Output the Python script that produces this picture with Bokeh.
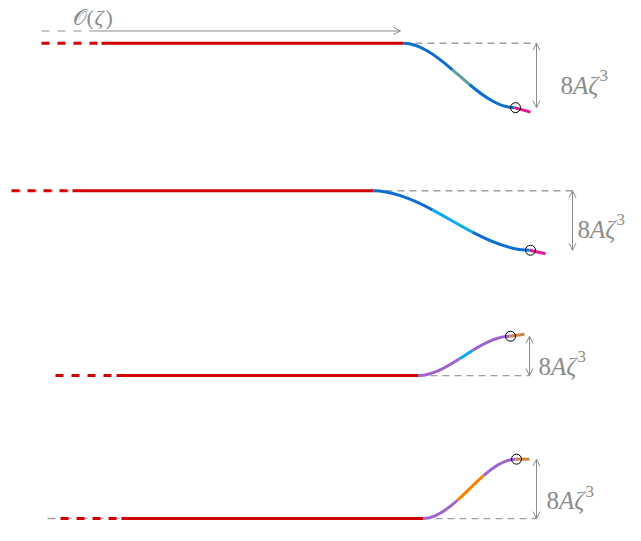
from bokeh.plotting import figure
from bokeh.models import Range1d, Arrow, OpenHead
from bokeh.core.properties import value
from bokeh.embed import file_html
from bokeh.resources import INLINE

# ---- diagram data (pixel coordinate system, y grows downward) ----
base_y = [47.5, 197.5, 385.5, 531.0]      # level of the flat (red) part
step_y = [113.0, 258.0, 345.5, 470.5]     # level after the step of height 8Aζ³
dash_start = [41, 11, 55, 60]              # start of the dashed red lead
solid_start = [101, 72, 116, 121]          # start of the solid red part
bend_x = [403, 373, 418, 423]              # where the smooth step begins
end_x = [514, 529, 509, 515]               # where the smooth step ends (circle)
mid_from = [452, 432, 459, 457]            # highlighted middle part of the step
mid_to = [469, 472, 472, 483]
tail_x = [530, 545, 524, 529]              # short end segment
tail_y = [117.5, 261.5, 343.5, 470.5]
ruler_x = [536, 572, 529, 536]             # double arrow showing 8Aζ³
label_x = [560, 577, 538, 546]             # left edge of the 8Aζ³ label
label_base = [90, 236.5, 376.5, 513]       # baseline of the 8Aζ³ label
curve_color = ["#0b6ed0", "#0b6ed0", "#9e63cf", "#9e63cf"]
mid_color = ["#5f9ea0", "#0aaaf0", "#0aaaf0", "#ff8000"]
tail_color = ["#e8168f", "#e8168f", "#cd853f", "#cd853f"]
gray_lead = [(0, 0), (13, 70), (0, 0), (47, 119)]   # grey dashes under red lead
scale_y = 35                                   # O(ζ) scale arrow level
scale_x = [41, 97, 400]                        # dashed start, solid start, arrow tip
scale_label_parts = ["𝒪(", "ζ", ")"]
scale_label_pos = (72, 21)

RED = "#d00000"
GRAY = "#8c8c8c"
LGRAY = "#a0a0a0"
SERIF = value("Liberation Serif")

p = figure(width=625, height=525, output_backend="svg", toolbar_location=None,
           x_range=Range1d(0, 625), y_range=Range1d(538, 4),
           min_border=0, outline_line_color=None)
p.axis.visible = False
p.grid.visible = False
p.background_fill_color = "white"


def smooth(t, y0, h):
    return y0 + h * (3 * t * t - 2 * t ** 3)


def dsmooth(t, h):
    return 6 * h * t * (1 - t)


for i in range(4):
    y0, y1 = base_y[i], step_y[i]
    x0, x1 = bend_x[i], end_x[i]
    w, h = x1 - x0, y1 - y0

    # grey dashed reference line at the base level
    p.line([x0, ruler_x[i]], [y0, y0], line_color=LGRAY, line_width=1.3,
           line_dash="7 5")
    # grey double arrow 8Aζ³
    p.add_layout(Arrow(x_start=ruler_x[i], y_start=y0, x_end=ruler_x[i], y_end=y1,
                       line_color=GRAY, line_width=1,
                       start=OpenHead(size=7, line_color=GRAY, line_width=1),
                       end=OpenHead(size=7, line_color=GRAY, line_width=1)))
    lx, by = label_x[i], label_base[i]
    p.text(x=[lx], y=[by], text=["8"], text_font=SERIF, text_font_size="25px",
           text_color=GRAY, text_align="left", text_baseline="alphabetic")
    p.text(x=[lx + 12.5], y=[by], text=["Aζ"], text_font=SERIF,
           text_font_style="italic", text_font_size="25px",
           text_color=GRAY, text_align="left", text_baseline="alphabetic")
    p.text(x=[lx + 39], y=[by - 10], text=["3"], text_font=SERIF,
           text_font_size="17px", text_color=GRAY, text_align="left",
           text_baseline="alphabetic")

    # grey lead dashes under the red dashes
    g0, g1 = gray_lead[i]
    if g1 > g0:
        p.line([g0, g1], [y0, y0], line_color=LGRAY, line_width=1.5, line_dash="8 8")

    # red lead
    p.line([dash_start[i], solid_start[i] - 4], [y0, y0], line_color=RED,
           line_width=3, line_dash="8 8")
    p.line([solid_start[i], x0], [y0, y0], line_color=RED, line_width=3)

    # smooth step in three pieces
    ta = (mid_from[i] - x0) / w
    tb = (mid_to[i] - x0) / w
    pieces = [(0.0, ta, curve_color[i]), (ta, tb, mid_color[i]), (tb, 1.0, curve_color[i])]
    for a, b, col in pieces:
        d = (b - a) / 3
        xa, ya = x0 + w * a, smooth(a, y0, h)
        xb, yb = x0 + w * b, smooth(b, y0, h)
        p.bezier(x0=[xa], y0=[ya], x1=[xb], y1=[yb],
                 cx0=[xa + d * w], cy0=[ya + d * dsmooth(a, h)],
                 cx1=[xb - d * w], cy1=[yb - d * dsmooth(b, h)],
                 line_color=col, line_width=3)

    # tail
    p.line([x1, tail_x[i]], [y1, tail_y[i]], line_color=tail_color[i], line_width=3)
    # circle marker
    p.scatter([x1 + 1], [y1], size=10, marker="circle", fill_alpha=0,
              line_color="black", line_width=1)

# O(ζ) scale arrow on top
p.line([scale_x[0], scale_x[1]], [scale_y, scale_y], line_color=GRAY, line_width=1,
       line_dash="8 8")
p.add_layout(Arrow(x_start=scale_x[1], y_start=scale_y, x_end=scale_x[2], y_end=scale_y,
                   line_color=GRAY, line_width=1,
                   end=OpenHead(size=7, line_color=GRAY, line_width=1)))
sx, sy = scale_label_pos
p.text(x=[sx], y=[sy], text=[scale_label_parts[0]], text_font=SERIF,
       text_font_size="22px", text_color=GRAY, text_align="left",
       text_baseline="alphabetic")
p.text(x=[sx + 22], y=[sy], text=[scale_label_parts[1]], text_font=SERIF,
       text_font_style="italic", text_font_size="22px", text_color=GRAY,
       text_align="left", text_baseline="alphabetic")
p.text(x=[sx + 33], y=[sy], text=[scale_label_parts[2]], text_font=SERIF,
       text_font_size="22px", text_color=GRAY, text_align="left",
       text_baseline="alphabetic")

open("out.html", "w").write(file_html(p, INLINE))
